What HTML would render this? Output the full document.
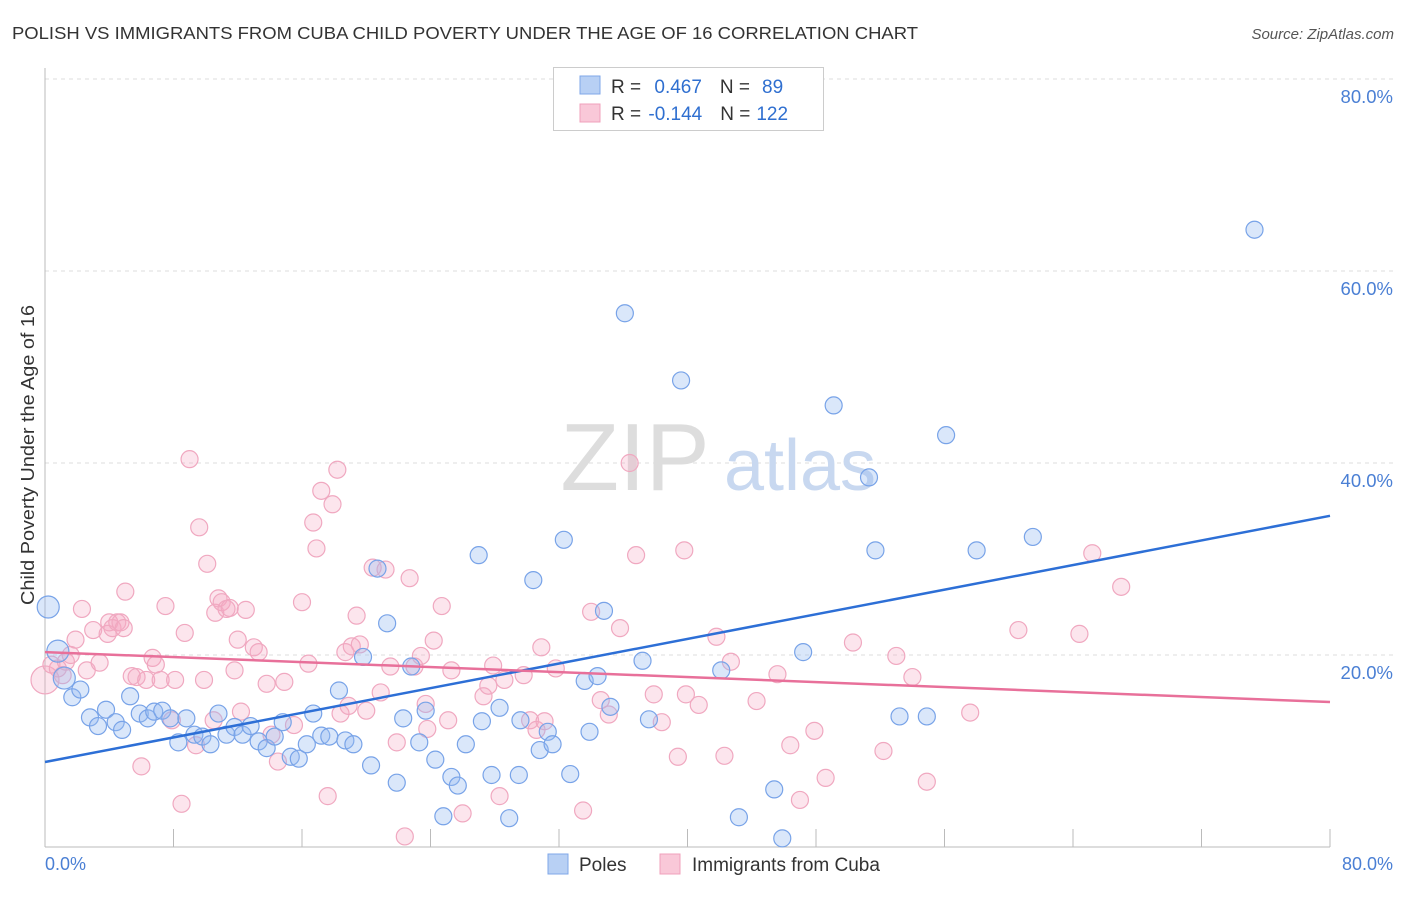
<!DOCTYPE html>
<html><head><meta charset="utf-8"><style>
body{margin:0;background:#fff;font-family:"Liberation Sans",sans-serif;}
svg text{font-family:"Liberation Sans",sans-serif;}
</style></head><body>
<svg id="chart" width="1406" height="892">
<text x="12" y="39" font-size="17.5" fill="#333" textLength="906" lengthAdjust="spacingAndGlyphs">POLISH VS IMMIGRANTS FROM CUBA CHILD POVERTY UNDER THE AGE OF 16 CORRELATION CHART</text>
<text x="1394" y="39" font-size="15" fill="#555" text-anchor="end" font-style="italic">Source: ZipAtlas.com</text>
<g id="grid"></g>
<text x="635" y="490" font-size="96" fill="#ddd" font-family="Liberation Serif" text-anchor="middle">ZIP</text>
<text x="800" y="490" font-size="72" fill="#c8d8f0" text-anchor="middle">atlas</text>
<g id="points"></g>
<g id="lines"></g>
<text x="34" y="455" font-size="18.5" fill="#333" text-anchor="middle" textLength="300" lengthAdjust="spacingAndGlyphs" transform="rotate(-90 34 455)">Child Poverty Under the Age of 16</text>
<text x="45" y="870" font-size="18" fill="#4a7fd4">0.0%</text>
<text x="1393" y="870" font-size="18" fill="#4a7fd4" text-anchor="end">80.0%</text>
<g>
<rect x="553.5" y="67.5" width="270" height="63" fill="#fff" stroke="#ccc"/>
<rect x="580" y="76" width="20" height="18" fill="#b8d0f4" stroke="#7fa7e8"/>
<rect x="580" y="104" width="20" height="18" fill="#f9c8d8" stroke="#f0a0bb"/>
<text x="611" y="93" font-size="19" fill="#333">R = <tspan fill="#2f6fd0" dx="8">0.467</tspan><tspan fill="#333" dx="18">N =</tspan><tspan fill="#2f6fd0" dx="12">89</tspan></text>
<text x="611" y="120" font-size="19" fill="#333">R = <tspan fill="#2f6fd0" dx="2">-0.144</tspan><tspan fill="#333" dx="18">N =</tspan><tspan fill="#2f6fd0" dx="6">122</tspan></text>
</g>
<g>
<rect x="548" y="854" width="20" height="20" fill="#b8d0f4" stroke="#7fa7e8"/>
<text x="579" y="871" font-size="19" fill="#333">Poles</text>
<rect x="660" y="854" width="20" height="20" fill="#f9c8d8" stroke="#f0a0bb"/>
<text x="692" y="871" font-size="19" fill="#333">Immigrants from Cuba</text>
</g>
</svg>
<script>
const yTicks=[20,40,60,80];
const yTickLabels=["20.0%","40.0%","60.0%","80.0%"];
const xTicks=[8,16,24,32,40,48,56,64,72,80];
const bluePctX=[0.2,0.8,1.2,1.7,2.2,2.8,3.3,3.8,4.4,4.8,5.3,5.9,6.4,6.8,7.3,7.8,8.3,8.8,9.3,9.8,10.3,10.8,11.3,11.8,12.3,12.8,13.3,13.8,14.3,14.8,15.3,15.8,16.3,16.7,17.2,17.7,18.3,18.7,19.2,19.8,20.3,20.7,21.3,21.9,22.3,22.8,23.3,23.7,24.3,24.8,25.3,25.7,26.2,27.0,27.2,27.8,28.3,28.9,29.5,29.6,30.4,30.8,31.3,31.6,32.3,32.7,33.6,33.9,34.4,34.8,35.2,36.1,37.2,37.6,39.6,42.1,43.2,45.4,45.9,47.2,49.1,51.3,51.7,53.2,54.9,56.1,58.0,61.5,75.3];
const bluePctY=[25.0,20.4,17.6,15.6,16.4,13.5,12.6,14.3,13.0,12.2,15.7,13.9,13.4,14.1,14.2,13.4,10.9,13.4,11.7,11.5,10.7,13.9,11.7,12.5,11.7,12.6,11.0,10.3,11.5,13.0,9.4,9.2,10.7,13.9,11.6,11.5,16.3,11.1,10.7,19.8,8.5,29.0,23.3,6.7,13.4,18.8,10.9,14.2,9.1,3.2,7.3,6.4,10.7,30.4,13.1,7.5,14.5,3.0,7.5,13.2,27.8,10.1,12.0,10.7,32.0,7.6,17.3,12.0,17.8,24.6,14.6,55.6,19.4,13.3,48.6,18.4,3.1,6.0,0.9,20.3,46.0,38.5,30.9,13.6,13.6,42.9,30.9,32.3,64.3];
const pinkPctX=[0,0.4,0.8,1.1,1.3,1.6,1.9,2.3,2.6,3.0,3.4,3.9,4.0,4.2,4.5,4.7,4.9,5.0,5.4,5.7,6.0,6.3,6.7,6.9,7.2,7.5,7.9,8.1,8.5,8.7,9.0,9.4,9.6,9.9,10.1,10.5,10.6,10.8,11.0,11.3,11.5,11.8,12.0,12.2,12.5,13.0,13.3,13.8,14.1,14.5,14.9,15.5,16.0,16.4,16.7,16.9,17.2,17.6,17.9,18.2,18.4,18.7,18.9,19.1,19.4,19.6,20.0,20.4,20.9,21.2,21.5,21.9,22.4,22.7,23.0,23.4,23.7,23.8,24.2,24.7,25.1,25.3,26.0,27.3,27.6,27.9,28.3,28.6,29.8,30.2,30.6,30.9,31.1,31.8,33.5,34.0,34.6,35.1,35.8,36.4,36.8,37.9,38.4,39.4,39.8,39.9,40.7,41.8,42.3,42.7,44.3,45.6,46.4,47.0,47.9,48.6,50.3,52.2,53.0,54.0,54.9,57.6,60.6,64.4,65.2,67.0];
const pinkPctY=[17.4,19.0,18.6,17.9,19.3,20.0,21.6,24.8,18.4,22.6,19.2,22.2,23.4,22.8,23.4,23.4,22.8,26.6,17.8,17.7,8.4,17.4,19.7,19.0,17.4,25.1,13.2,17.4,4.5,22.3,40.4,10.6,33.3,17.4,29.5,13.2,24.4,25.9,25.5,24.8,24.9,18.4,21.6,14.1,24.7,20.8,20.3,17.0,11.7,8.9,17.2,12.7,25.5,19.1,33.8,31.1,37.1,5.3,35.7,39.3,13.9,20.3,14.7,20.9,24.1,21.1,14.2,29.1,16.1,28.9,18.8,10.9,1.1,28.0,18.8,19.9,14.9,12.3,21.5,25.1,13.2,18.4,3.5,15.7,16.8,18.9,5.3,17.4,17.9,13.2,12.2,20.8,13.1,18.6,3.8,24.5,15.3,13.8,22.8,40.0,30.4,15.9,13.0,9.4,30.9,15.9,14.8,21.9,9.5,19.3,15.2,18.0,10.6,4.9,12.1,7.2,21.3,10.0,19.9,17.7,6.8,14.0,22.6,22.2,30.6,27.1];
const blueTrend=[8.85,34.5];
const pinkTrend=[20.3,15.1];

const X0=45,X1=1330,Y0=847,Y1=79;
const sx=v=>X0+(X1-X0)*v/80;
const sy=v=>Y0-(Y0-Y1)*v/80;
const NS="http://www.w3.org/2000/svg";
function mk(tag,attrs,parent){const e=document.createElementNS(NS,tag);for(const k in attrs)e.setAttribute(k,attrs[k]);parent.appendChild(e);return e;}
const grid=document.getElementById('grid');
yTicks.forEach((t,i)=>{
 const l=mk('line',{x1:X0,x2:1394,y1:sy(t),y2:sy(t),stroke:'#ddd','stroke-dasharray':'4,4'},grid);
 
 
 const tx=mk('text',{x:1393,y:sy(t)+24,'font-size':18.5,fill:'#4a7fd4','text-anchor':'end'},grid);
 tx.textContent=yTickLabels[i];
 
 
});
const ya=mk('line',{x1:X0,x2:X0,y1:68,y2:Y0,stroke:'#bbb'},grid);


const xa=mk('line',{x1:X0,x2:X1,y1:Y0,y2:Y0,stroke:'#bbb'},grid);


xTicks.forEach(t=>{
 const l=mk('line',{x1:sx(t),x2:sx(t),y1:Y0,y2:Y0-18,stroke:'#bbb'},grid);
 
 
});
const pts=document.getElementById('points');
const nb=Math.min(bluePctX.length,bluePctY.length);
const np=Math.min(pinkPctX.length,pinkPctY.length);
for(let i=0;i<np;i++){
 const c=mk('circle',{cx:sx(pinkPctX[i]),cy:sy(pinkPctY[i]),r:i==0?14:8.5,fill:'rgba(244,168,196,0.3)',stroke:'#f0a8c0','stroke-width':1.2},pts);
 
 
}
for(let i=0;i<nb;i++){
 const c=mk('circle',{cx:sx(bluePctX[i]),cy:sy(bluePctY[i]),r:i<3?11:8.5,fill:'rgba(150,185,240,0.35)',stroke:'#78a3e8','stroke-width':1.2},pts);
 
 
}
const lines=document.getElementById('lines');
const bl=mk('line',{x1:sx(0),y1:sy(blueTrend[0]),x2:sx(80),y2:sy(blueTrend[1]),stroke:'#2d6fd6','stroke-width':2.5},lines);


const pl=mk('line',{x1:sx(0),y1:sy(pinkTrend[0]),x2:sx(80),y2:sy(pinkTrend[1]),stroke:'#e8709a','stroke-width':2.5},lines);


</script>
</body></html>
